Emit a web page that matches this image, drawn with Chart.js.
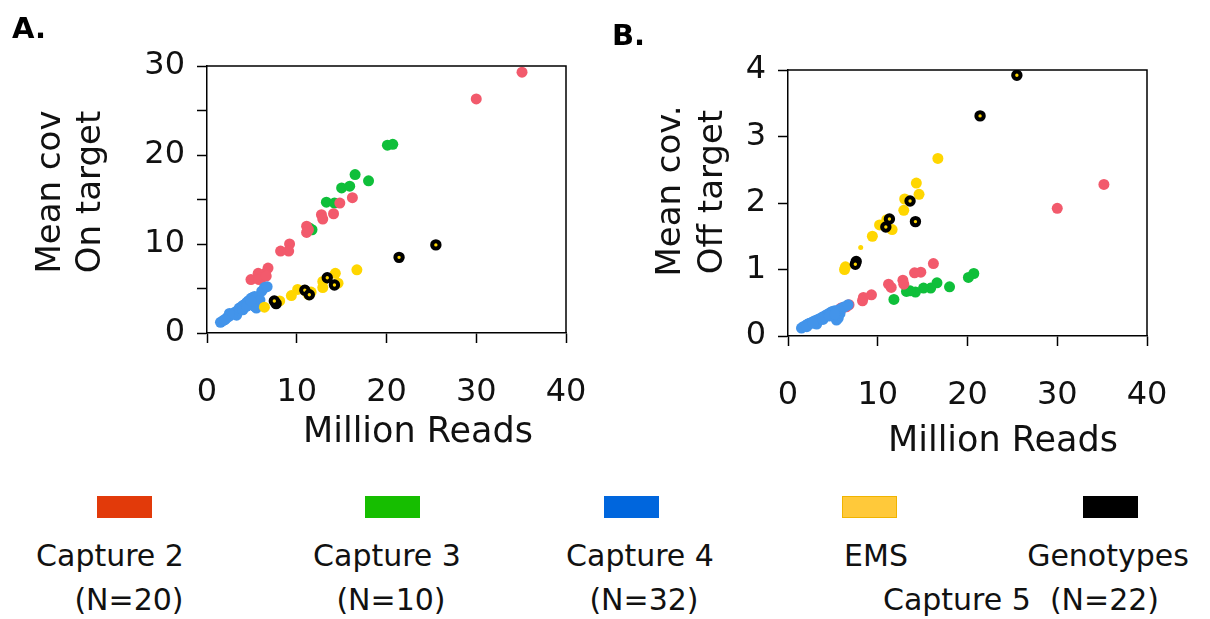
<!DOCTYPE html>
<html>
<head>
<meta charset="utf-8">
<script src="https://cdn.jsdelivr.net/npm/chart.js@4/dist/chart.umd.min.js"></script>
<style>
  body { margin: 0; background: #fff; font-family: "DejaVu Sans", sans-serif; }
  #wrap { position: relative; width: 1210px; height: 619px; overflow: hidden; }
  canvas { position: absolute; top: 0; }
  .panel { position: absolute; font-weight: bold; font-size: 29px; line-height: 1; }
  .sw { position: absolute; top: 496px; width: 55px; height: 22px; box-sizing: border-box; }
  .lab { position: absolute; font-size: 30px; line-height: 1; white-space: pre; transform: translateX(-50%); color: #111; }
  .xt { position: absolute; font-size: 35px; line-height: 1; white-space: pre; transform: translateX(-50%); color: #111; }
  .yt { position: absolute; font-size: 34px; line-height: 1; white-space: pre; transform: translate(-50%, -50%) rotate(-90deg); color: #111; }
</style>
</head>
<body>
<div id="wrap">
  <canvas id="onTarget" style="left:0px"></canvas>
  <canvas id="offTarget" style="left:600px"></canvas>
  <div class="panel" style="left:12px; top:14px">A.</div>
  <div class="panel" style="left:612px; top:21px">B.</div>

  <div class="yt" style="left:48px; top:192px">Mean cov</div>
  <div class="yt" style="left:88px; top:192px">On target</div>
  <div class="xt" style="left:418px; top:413px">Million Reads</div>
  <div class="yt" style="left:668px; top:191px">Mean cov.</div>
  <div class="yt" style="left:710px; top:192px">Off target</div>
  <div class="xt" style="left:1003px; top:422px">Million Reads</div>

  <div class="sw" style="left:97px; background:#e23a0a"></div>
  <div class="sw" style="left:365px; background:#16be00"></div>
  <div class="sw" style="left:604px; background:#0066dd"></div>
  <div class="sw" style="left:842px; background:#ffc93a; border:1px solid #f0b400"></div>
  <div class="sw" style="left:1083px; background:#000"></div>

  <div class="lab" style="left:110px; top:541px">Capture 2</div>
  <div class="lab" style="left:129px; top:585px">(N=20)</div>
  <div class="lab" style="left:387px; top:541px">Capture 3</div>
  <div class="lab" style="left:391px; top:585px">(N=10)</div>
  <div class="lab" style="left:640px; top:541px">Capture 4</div>
  <div class="lab" style="left:644px; top:585px">(N=32)</div>
  <div class="lab" style="left:876px; top:541px">EMS</div>
  <div class="lab" style="left:1108px; top:541px">Genotypes</div>
  <div class="lab" style="left:1021px; top:585px">Capture 5  (N=22)</div>
</div>
<script>
// ---- Panel A: mean coverage on target vs million reads ----
const onCap2X = [35.1, 30.0, 16.2, 14.8, 14.1, 12.75, 12.9, 11.1, 11.3, 11.1, 9.2, 9.1, 8.2, 6.8, 6.5, 5.7, 6.1, 4.9, 5.8, 6.6];
const onCap2Y = [29.3, 26.3, 15.2, 14.6, 13.4, 13.3, 12.8, 12.0, 11.6, 11.3, 10.0, 9.2, 9.2, 7.3, 6.7, 6.7, 6.2, 6.0, 6.0, 6.4];
const onCap3X = [20.1, 20.7, 16.5, 18.0, 15.0, 15.9, 13.3, 14.2, 11.7, 11.4];
const onCap3Y = [21.1, 21.2, 17.8, 17.1, 16.3, 16.5, 14.7, 14.6, 11.6, 11.8];
const onCap4X = [1.5, 1.8, 2.2, 2.5, 2.7, 2.9, 3.2, 3.3, 3.5, 3.6, 3.8, 4.0, 4.2, 4.4, 4.6, 4.8, 4.9, 5.1, 5.3, 4.8, 5.5, 5.3, 5.7, 5.9, 6.1, 6.4, 6.7, 2.5, 2.0, 4.0, 4.4, 4.9];
const onCap4Y = [1.2, 1.4, 1.7, 1.9, 2.1, 2.2, 2.4, 2.0, 2.6, 2.8, 2.9, 3.1, 3.2, 3.4, 3.6, 3.7, 3.9, 4.0, 4.1, 3.2, 2.8, 3.0, 3.4, 3.7, 4.7, 5.1, 5.2, 2.2, 1.5, 2.6, 3.0, 3.6];
const onEmsX = [16.7, 14.3, 14.6, 12.9, 12.9, 11.6, 11.3, 10.1, 9.4, 8.1, 6.4, 10.9];
const onEmsY = [7.1, 6.7, 5.6, 5.8, 5.1, 4.6, 4.3, 4.9, 4.2, 3.6, 2.9, 4.8];
const onGenoX = [25.5, 21.4, 7.7, 7.5, 10.9, 11.4, 13.4, 14.2];
const onGenoY = [9.9, 8.5, 3.3, 3.6, 4.8, 4.3, 6.2, 5.4];

// ---- Panel B: mean coverage off target vs million reads ----
const offCap2X = [35.2, 30.0, 16.2, 14.8, 14.1, 12.8, 12.9, 11.2, 11.5, 9.3, 8.4, 8.3, 6.8, 5.9, 5.2, 6.5, 5.8, 6.2, 5.5, 4.9];
const offCap2Y = [2.28, 1.92, 1.09, 0.96, 0.95, 0.84, 0.78, 0.78, 0.73, 0.62, 0.58, 0.53, 0.47, 0.42, 0.32, 0.44, 0.39, 0.43, 0.36, 0.33];
const offCap3X = [20.7, 20.1, 18.0, 16.6, 15.9, 15.1, 14.2, 13.2, 11.8, 13.6];
const offCap3Y = [0.94, 0.88, 0.74, 0.80, 0.72, 0.72, 0.66, 0.67, 0.55, 0.68];
const offCap4X = [1.5, 1.7, 2.0, 2.2, 2.4, 2.7, 3.0, 3.2, 3.2, 3.5, 3.7, 3.9, 4.1, 4.3, 4.5, 4.6, 4.8, 5.0, 5.2, 5.4, 5.6, 5.4, 5.8, 5.6, 6.0, 6.3, 6.7, 2.1, 2.8, 3.9, 4.6, 5.2];
const offCap4Y = [0.12, 0.14, 0.16, 0.18, 0.19, 0.21, 0.23, 0.18, 0.24, 0.26, 0.27, 0.29, 0.30, 0.32, 0.33, 0.34, 0.36, 0.37, 0.38, 0.24, 0.27, 0.32, 0.34, 0.39, 0.42, 0.44, 0.47, 0.14, 0.19, 0.25, 0.30, 0.33];
const offEmsX = [16.7, 14.3, 14.6, 13.0, 12.9, 11.6, 11.0, 10.2, 9.4, 8.1, 6.4, 6.3, 10.8];
const offEmsY = [2.67, 2.30, 2.13, 2.06, 1.89, 1.60, 1.75, 1.67, 1.50, 1.33, 1.04, 1.00, 1.66];
const offEmsRadius = [5.5, 5.5, 5.5, 5.5, 5.5, 5.5, 5.5, 5.5, 5.5, 2.5, 5.5, 5.5, 5.5];
const offGenoX = [25.5, 21.4, 13.6, 14.2, 11.3, 10.9, 7.6, 7.5];
const offGenoY = [3.92, 3.31, 2.03, 1.72, 1.76, 1.64, 1.12, 1.08];

const xTicks = [0, 10, 20, 30, 40];

const RED = '#f25a6c', GREEN = '#0fbf3a', BLUE = '#4394ea', YELLOW = '#ffd600';

function pts(xs, ys) {
  return xs.map((x, i) => ({ x: x, y: ys[i] }));
}

function dot(label, data, color, radius) {
  return {
    label: label,
    data: data,
    backgroundColor: color,
    borderColor: color,
    borderWidth: 0,
    pointRadius: radius || 5.5,
    pointHoverRadius: radius || 5.5
  };
}

function geno(data) {
  return {
    label: 'Genotypes',
    data: data,
    backgroundColor: YELLOW,
    borderColor: '#000',
    pointBorderWidth: 4,
    pointRadius: 3.7,
    pointHoverRadius: 3.7
  };
}

// top + right frame lines
const frame = {
  id: 'frame',
  afterDraw(chart) {
    const a = chart.chartArea, c = chart.ctx;
    c.save();
    c.strokeStyle = '#000';
    c.lineWidth = 1.5;
    c.beginPath();
    c.moveTo(a.left, a.top);
    c.lineTo(a.right, a.top);
    c.lineTo(a.right, a.bottom);
    c.stroke();
    c.restore();
  }
};

function makeChart(id, w, datasets, cfg) {
  const canvas = document.getElementById(id);
  canvas.width = w;
  canvas.height = 470;
  canvas.style.width = w + 'px';
  canvas.style.height = '470px';
  return new Chart(canvas, {
    type: 'scatter',
    data: { datasets: datasets },
    plugins: [frame],
    options: {
      responsive: false,
      animation: false,
      events: [],
      layout: { padding: { left: 0, top: cfg.top, right: cfg.right, bottom: 0 } },
      plugins: { legend: { display: false }, tooltip: { enabled: false } },
      scales: {
        x: {
          type: 'linear', min: 0, max: 40,
          afterBuildTicks: s => { s.ticks = xTicks.map(v => ({ value: v })); },
          afterFit: s => { s.height = cfg.xHeight; },
          border: { display: true, color: '#000', width: 1.5 },
          grid: { drawOnChartArea: false, drawTicks: true, tickLength: 10, tickWidth: 1.5, tickColor: '#000' },
          ticks: { color: '#111', padding: 30, maxRotation: 0, font: { family: 'DejaVu Sans', size: 32 } }
        },
        y: {
          type: 'linear', min: 0, max: cfg.yMax,
          afterBuildTicks: s => { s.ticks = cfg.yTickVals.map(v => ({ value: v })); },
          afterFit: s => { s.width = cfg.yWidth; },
          border: { display: true, color: '#000', width: 1.5 },
          grid: { drawOnChartArea: false, drawTicks: true, tickLength: 10, tickWidth: 1.5, tickColor: '#000' },
          ticks: {
            color: '#111', padding: 12, font: { family: 'DejaVu Sans', size: 32 },
            callback: v => (cfg.yLabelVals.includes(v) ? String(v) : '')
          }
        }
      }
    }
  });
}

makeChart('onTarget', 630, [
  geno(pts(onGenoX, onGenoY)),
  dot('EMS Capture 5', pts(onEmsX, onEmsY), YELLOW),
  dot('Capture 4', pts(onCap4X, onCap4Y), BLUE),
  dot('Capture 2', pts(onCap2X, onCap2Y), RED),
  dot('Capture 3', pts(onCap3X, onCap3Y), GREEN)
], {
  top: 66, right: 64, xHeight: 137, yWidth: 207, yMax: 30,
  yTickVals: [0, 5, 10, 15, 20, 25, 30], yLabelVals: [0, 10, 20, 30]
});

makeChart('offTarget', 610, [
  geno(pts(offGenoX, offGenoY)),
  Object.assign(dot('EMS Capture 5', pts(offEmsX, offEmsY), YELLOW), { pointRadius: offEmsRadius }),
  dot('Capture 4', pts(offCap4X, offCap4Y), BLUE),
  dot('Capture 2', pts(offCap2X, offCap2Y), RED),
  dot('Capture 3', pts(offCap3X, offCap3Y), GREEN)
], {
  top: 70, right: 63, xHeight: 134, yWidth: 188, yMax: 4,
  yTickVals: [0, 1, 2, 3, 4], yLabelVals: [0, 1, 2, 3, 4]
});
</script>
</body>
</html>
